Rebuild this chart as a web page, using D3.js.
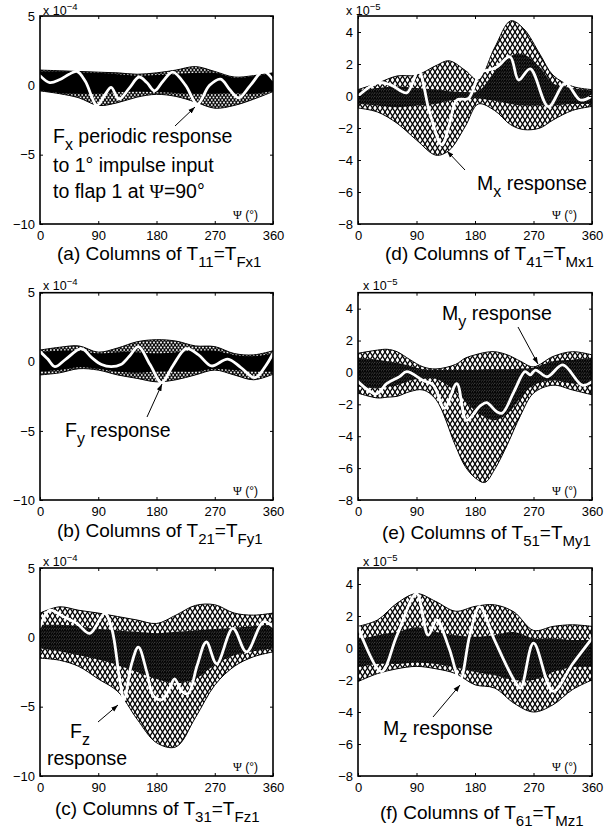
<!DOCTYPE html>
<html><head><meta charset="utf-8">
<script src="https://cdn.jsdelivr.net/npm/d3@7"></script>
<style>body{margin:0;background:#fff}svg{display:block}</style>
</head><body>
<script>
// ---------- DATA ----------
const xTicks = [0, 90, 180, 270, 360];
const leftYTicks = [5, 0, -5, -10];
const leftYLabels = ["5", "0", "\u22125", "\u221210"];
const rightYTicks = [4, 2, 0, -2, -4, -6, -8];
const rightYLabels = ["4", "2", "0", "\u22122", "\u22124", "\u22126", "\u22128"];

// (a) T11 = TFx1  (x 1e-4)
const aEnvPsi = [0,30,60,90,120,150,180,210,240,270,300,330,360];
const aUpper = [1.1,1.05,1.0,0.95,0.9,0.8,0.9,1.1,1.35,1.0,0.6,0.7,0.9];
const aLower = [-0.4,-0.6,-0.9,-1.45,-1.25,-0.85,-0.65,-0.8,-1.2,-1.65,-1.45,-1.0,-0.45];
const aCoreUpper = [1.0,1.0,0.95,0.9,0.8,0.7,0.75,0.8,0.9,0.9,0.55,0.65,0.85];
const aCoreLower = [-0.35,-0.55,-0.6,-0.6,-0.5,-0.45,-0.5,-0.55,-0.6,-0.6,-0.55,-0.6,-0.4];
const aWhitePsi = [0,15,30,45,57,70,88,100,110,122,138,153,165,177,190,205,225,243,262,279,293,307,325,345,360];
const aWhiteVal = [0.7,0.2,0.4,0.8,1.0,0.3,-1.45,-0.7,-0.15,-1.0,-0.2,0.6,0.2,-0.4,0.3,0.95,0.0,-1.35,0.0,0.45,-0.3,-0.9,0.0,1.0,0.4];

// (b) T21 = TFy1  (x 1e-4)
const bEnvPsi = [0,30,60,90,120,150,180,210,240,270,300,330,360];
const bUpper = [0.85,1.05,1.15,0.7,1.0,1.45,1.6,1.5,1.15,1.1,0.6,0.5,0.8];
const bLower = [-0.95,-0.8,-0.5,-0.6,-0.95,-1.2,-1.45,-1.3,-0.95,-0.6,-0.95,-1.3,-0.9];
const bCoreUpper = [0.7,0.8,0.8,0.6,0.7,0.7,0.6,0.7,0.8,0.8,0.5,0.4,0.6];
const bCoreLower = [-0.7,-0.6,-0.4,-0.5,-0.7,-0.8,-0.7,-0.7,-0.7,-0.5,-0.6,-0.7,-0.7];
const bWhitePsi = [0,12,23,40,64,80,95,110,125,138,152,170,188,205,226,245,265,290,310,332,350,360];
const bWhiteVal = [0.75,0.2,-0.35,0.2,0.95,0.3,-0.2,-0.35,-0.2,0.4,1.1,-0.2,-1.5,-0.3,0.95,0.5,-0.3,0.2,-0.4,-1.15,-0.2,0.6];

// (c) T31 = TFz1  (x 1e-4)
const cEnvPsi = [0,30,60,90,120,150,180,210,240,270,300,330,360];
const cUpper = [1.75,2.2,1.95,1.75,1.5,1.25,1.0,1.6,2.3,2.35,1.75,1.6,1.75];
const cLower = [-1.5,-1.65,-2.1,-3.0,-3.9,-5.9,-7.6,-7.9,-5.8,-3.45,-2.1,-1.4,-1.05];
const cCoreUpper = [0.9,0.9,0.8,0.6,0.5,0.4,0.3,0.4,0.5,0.6,0.7,0.8,0.9];
const cCoreLower = [-0.8,-1.0,-1.3,-1.6,-2.0,-2.5,-3.0,-3.3,-3.0,-2.0,-1.3,-1.0,-0.8];
const cWhitePsi = [0,15,36,57,77,100,111,123,130,141,152,165,175,188,200,208,219,229,243,257,273,298,319,345,360];
const cWhiteVal = [0.76,1.96,1.5,1.0,0.28,1.72,0.6,-3.0,-4.5,-2.0,-0.7,-2.5,-4.2,-4.5,-3.7,-3.0,-3.9,-4.05,-2.0,-0.33,-1.9,0.64,-1.05,1.12,0.76];

// (d) T41 = TMx1  (x 1e-5)
const dEnvPsi = [0,30,60,90,120,140,165,185,210,235,255,280,300,330,360];
const dUpper = [0.4,0.8,1.25,1.3,1.9,2.2,1.6,1.0,3.0,4.7,4.2,2.6,1.3,0.6,0.4];
const dLower = [-0.75,-1.0,-1.7,-2.75,-3.7,-3.4,-1.9,-0.5,-0.9,-1.8,-2.1,-2.0,-1.5,-0.9,-0.65];
const dCoreUpper = [0.35,0.5,0.6,0.5,0.4,0.3,0.25,0.3,1.5,2.5,2.6,1.8,0.8,0.5,0.35];
const dCoreLower = [-0.5,-0.6,-0.7,-0.6,-0.5,-0.3,-0.2,-0.15,-0.3,-0.5,-0.6,-0.6,-0.6,-0.5,-0.5];
const dWhitePsi = [0,31,50,75,93,110,129,141,152,170,188,198,213,234,247,265,293,319,342,360];
const dWhiteVal = [0.0,0.83,0.7,0.2,1.56,-1.0,-3.06,-1.7,-0.25,-0.15,1.5,1.6,1.8,2.45,1.0,1.7,-0.67,0.8,-0.25,0.0];

// (e) T51 = TMy1  (x 1e-5)
const eEnvPsi = [0,30,45,60,80,100,120,150,165,180,195,210,230,250,270,300,330,360];
const eUpper = [1.2,1.4,1.45,1.3,0.8,0.35,0.22,0.5,0.9,1.1,1.25,1.3,1.1,0.7,0.35,1.0,1.3,1.1];
const eLower = [-1.3,-1.6,-1.55,-1.5,-1.2,-1.1,-1.7,-4.6,-5.9,-6.6,-6.9,-6.1,-4.5,-2.7,-1.3,-0.8,-1.1,-1.4];
const eCoreUpper = [0.9,0.8,0.7,0.6,0.4,0.2,0.15,0.15,0.15,0.15,0.2,0.2,0.2,0.25,0.3,0.7,0.8,0.9];
const eCoreLower = [-0.9,-1.0,-0.9,-0.8,-0.5,-0.4,-0.4,-1.2,-1.8,-2.4,-2.8,-3.0,-2.6,-1.6,-0.8,-0.5,-0.7,-0.9];
const eWhitePsi = [0,28,44,64,75,100,116,133,152,167,188,198,213,222,240,257,265,273,291,315,345,360];
const eWhiteVal = [-0.57,-1.35,-0.7,-0.26,0.05,-0.5,-0.8,-2.25,-0.7,-3.0,-2.1,-1.9,-2.45,-2.55,-1.2,0.05,-0.15,0.15,-0.27,0.47,-0.8,-0.57];

// (f) T61 = TMz1  (x 1e-5)
const fEnvPsi = [0,30,60,90,120,150,180,210,240,270,300,330,360];
const fUpper = [1.35,1.75,2.8,3.4,2.9,2.3,2.6,2.7,2.25,1.1,1.35,1.45,1.35];
const fLower = [-2.1,-1.6,-1.3,-1.15,-1.3,-1.6,-2.3,-2.5,-3.45,-4.0,-3.55,-2.6,-2.0];
const fCoreUpper = [0.5,0.8,1.0,1.3,1.0,0.8,0.7,0.8,1.0,0.6,0.6,0.5,0.5];
const fCoreLower = [-1.2,-1.0,-1.0,-0.9,-1.0,-1.2,-1.5,-1.7,-2.0,-2.0,-1.5,-1.2,-1.2];
const fWhitePsi = [0,36,60,90,108,121,140,157,172,187,210,240,250,270,300,330,360];
const fWhiteVal = [1.33,-1.48,0.8,3.4,0.8,1.75,0.0,-2.0,0.8,2.58,0.5,-2.0,-2.5,0.3,-2.7,-1.0,0.6];

// ---------- BUILD ----------
const zip = (psi, a, b) => psi.map((p, i) => ({psi: p, hi: a[i], lo: b[i]}));
const pts = (psi, v) => psi.map((p, i) => ({psi: p, v: v[i]}));
const panels = [
  {id:"a", x0:40, x1:273, y0:16, y1:224, dom:[-10,5], exp:"\u22124", expX:43, expY:15,
   env:zip(aEnvPsi,aUpper,aLower), core:zip(aEnvPsi,aCoreUpper,aCoreLower), white:pts(aWhitePsi,aWhiteVal),
   mesh:"meshSmall", coreFill:"#000", cap:{x:57,y:260,n:"(a)",s1:"11",s2:"Fx1"}},
  {id:"b", x0:40, x1:273, y0:292.7, y1:500, dom:[-10,5], exp:"\u22124", expX:43, expY:290,
   env:zip(bEnvPsi,bUpper,bLower), core:zip(bEnvPsi,bCoreUpper,bCoreLower), white:pts(bWhitePsi,bWhiteVal),
   mesh:"meshSmall", coreFill:"#000", cap:{x:57,y:537,n:"(b)",s1:"21",s2:"Fy1"}},
  {id:"c", x0:40, x1:273, y0:568, y1:776, dom:[-10,5], exp:"\u22124", expX:43, expY:566,
   env:zip(cEnvPsi,cUpper,cLower), core:zip(cEnvPsi,cCoreUpper,cCoreLower), white:pts(cWhitePsi,cWhiteVal),
   mesh:"meshOpen", coreFill:"url(#meshDense)", cap:{x:55,y:815,n:"(c)",s1:"31",s2:"Fz1"}},
  {id:"d", x0:358, x1:592, y0:16, y1:224, dom:[-8,5], exp:"\u22125", expX:346, expY:15,
   env:zip(dEnvPsi,dUpper,dLower), core:zip(dEnvPsi,dCoreUpper,dCoreLower), white:pts(dWhitePsi,dWhiteVal),
   mesh:"meshOpen", coreFill:"url(#meshDense)", cap:{x:385,y:260,n:"(d)",s1:"41",s2:"Mx1"}},
  {id:"e", x0:358, x1:592, y0:292.7, y1:500, dom:[-8,5], exp:"\u22125", expX:363, expY:290,
   env:zip(eEnvPsi,eUpper,eLower), core:zip(eEnvPsi,eCoreUpper,eCoreLower), white:pts(eWhitePsi,eWhiteVal),
   mesh:"meshOpen", coreFill:"url(#meshDense)", cap:{x:382,y:539,n:"(e)",s1:"51",s2:"My1"}},
  {id:"f", x0:358, x1:592, y0:568, y1:776, dom:[-8,5], exp:"\u22125", expX:363, expY:566,
   env:zip(fEnvPsi,fUpper,fLower), core:zip(fEnvPsi,fCoreUpper,fCoreLower), white:pts(fWhitePsi,fWhiteVal),
   mesh:"meshOpen", coreFill:"url(#meshDense)", cap:{x:380,y:819,n:"(f)",s1:"61",s2:"Mz1"}}
];

const annotations = {
  a: {lines:[{x:53,y:143,main:"F",sub:"x",rest:" periodic response"},{x:53,y:172,plain:"to 1\u00b0 impulse input"},{x:53,y:198,plain:"to flap 1 at ",psi:true,after:"=90\u00b0"}],
      arrow:[175,126,195,107]},
  b: {lines:[{x:65,y:437,main:"F",sub:"y",rest:"  response"}], arrow:[147,417,162,384]},
  c: {lines:[{x:70,y:738,main:"F",sub:"z",rest:""},{x:47,y:765,plain:"response"}], arrow:[98,722,118,705]},
  d: {lines:[{x:477,y:190,main:"M",sub:"x",rest:" response"}], arrow:[465,170,447,151]},
  e: {lines:[{x:442,y:320,main:"M",sub:"y",rest:" response"}], arrow:[518,327,538,364]},
  f: {lines:[{x:383,y:735,main:"M",sub:"z",rest:" response"}], arrow:[433,717,460,685]}
};

const FONT = "'Liberation Sans', Arial, Helvetica, sans-serif";
const SERIF = "'Liberation Serif', 'Times New Roman', serif";
const svg = d3.select("body").append("svg").attr("width",613).attr("height",835)
  .style("font-family", FONT);
const defs = svg.append("defs");

function addPattern(id, w, h, sw) {
  const p = defs.append("pattern").attr("id", id).attr("patternUnits","userSpaceOnUse").attr("width", w).attr("height", h);
  p.append("rect").attr("width", w).attr("height", h).attr("fill", "#fff");
  p.append("path").attr("d", `M0,0L${w},${h}M${w},0L0,${h}`)
    .attr("stroke","#000").attr("stroke-width", sw).attr("fill","none");
}
addPattern("meshOpen", 5, 8, 1.25);
addPattern("meshSmall", 3.5, 5, 1.2);
addPattern("meshDense", 2.5, 3.5, 1.4);

defs.append("marker").attr("id","arrowHead").attr("viewBox","0 0 10 10").attr("refX",10).attr("refY",5)
  .attr("markerWidth",7).attr("markerHeight",7).attr("orient","auto").attr("markerUnits","userSpaceOnUse")
  .append("path").attr("d","M0,1.5L10,5L0,8.5Z").attr("fill","#000");

panels.forEach(p => {
  const x = d3.scaleLinear().domain([0,360]).range([p.x0,p.x1]);
  const y = d3.scaleLinear().domain(p.dom).range([p.y1,p.y0]);
  const g = svg.append("g");
  const clipId = "clip-" + p.id;
  defs.append("clipPath").attr("id", clipId).append("rect")
    .attr("x", p.x0).attr("y", p.y0).attr("width", p.x1 - p.x0).attr("height", p.y1 - p.y0);
  const plot = g.append("g").attr("clip-path", `url(#${clipId})`);

  const area = d3.area().x(d => x(d.psi)).y0(d => y(d.lo)).y1(d => y(d.hi)).curve(d3.curveCatmullRom.alpha(0.5));
  plot.append("path").datum(p.env).attr("d", area).attr("fill", `url(#${p.mesh})`).attr("stroke","#000").attr("stroke-width",1);
  plot.append("path").datum(p.core).attr("d", area).attr("fill", p.coreFill).attr("stroke","none");

  const line = d3.line().x(d => x(d.psi)).y(d => y(d.v)).curve(d3.curveCatmullRom.alpha(0.5));
  plot.append("path").datum(p.white).attr("d", line).attr("fill","none").attr("stroke","#fff").attr("stroke-width",2.8)
    .attr("stroke-linejoin","round").attr("stroke-linecap","round");

  const yTicks = p.dom[0] === -10 ? leftYTicks : rightYTicks;
  const yLabels = p.dom[0] === -10 ? leftYLabels : rightYLabels;

  const bottom = g.append("g").attr("transform", `translate(0,${p.y1})`)
    .call(d3.axisBottom(x).tickValues(xTicks).tickSize(-3).tickPadding(7).tickFormat(d3.format("d")));
  const top = g.append("g").attr("transform", `translate(0,${p.y0})`)
    .call(d3.axisTop(x).tickValues(xTicks).tickSize(-3).tickFormat(""));
  const left = g.append("g").attr("transform", `translate(${p.x0},0)`)
    .call(d3.axisLeft(y).tickValues(yTicks).tickSize(-3).tickPadding(5).tickFormat((d,i) => yLabels[i]));
  const right = g.append("g").attr("transform", `translate(${p.x1},0)`)
    .call(d3.axisRight(y).tickValues(yTicks).tickSize(-3).tickFormat(""));
  [bottom, top, left, right].forEach(a => {
    a.select(".domain").remove();
    a.selectAll("line").attr("stroke","#000").attr("stroke-width",1);
    a.selectAll("text").attr("font-family", FONT).attr("font-size", 13).attr("fill","#000");
  });

  g.append("rect").attr("x", p.x0).attr("y", p.y0).attr("width", p.x1 - p.x0).attr("height", p.y1 - p.y0)
    .attr("fill","none").attr("stroke","#000").attr("stroke-width",1.6);

  const ex = g.append("text").attr("x", p.expX).attr("y", p.expY).attr("font-size", 12.5);
  ex.append("tspan").text("x 10");
  ex.append("tspan").attr("dy", -5).attr("font-size", 9.5).text(p.exp);

  const pl = g.append("text").attr("x", p.x1 - 15).attr("y", p.y1 - 5).attr("text-anchor","end").attr("font-size", 12);
  pl.append("tspan").attr("font-family", SERIF).text("\u03a8");
  pl.append("tspan").text(" (\u00b0)");

  const c = g.append("text").attr("x", p.cap.x).attr("y", p.cap.y).attr("font-size", 19);
  c.append("tspan").text(`${p.cap.n} Columns of T`);
  c.append("tspan").attr("dy", 7).attr("font-size", 15).text(p.cap.s1);
  c.append("tspan").attr("dy", -7).text("=T");
  c.append("tspan").attr("dy", 7).attr("font-size", 15).text(p.cap.s2);

  const an = annotations[p.id];
  an.lines.forEach(l => {
    const t = g.append("text").attr("x", l.x).attr("y", l.y).attr("font-size", 19.5);
    if (l.main) {
      t.append("tspan").text(l.main);
      t.append("tspan").attr("dy", 7).attr("font-size", 16).text(l.sub);
      t.append("tspan").attr("dy", -7).text(l.rest);
    } else {
      t.append("tspan").text(l.plain);
      if (l.psi) {
        t.append("tspan").attr("font-family", SERIF).text("\u03a8");
        t.append("tspan").text(l.after);
      }
    }
  });
  const [ax1, ay1, ax2, ay2] = an.arrow;
  g.append("line").attr("x1", ax1).attr("y1", ay1).attr("x2", ax2).attr("y2", ay2)
    .attr("stroke","#000").attr("stroke-width",1).attr("marker-end","url(#arrowHead)");
});
</script>
</body></html>
